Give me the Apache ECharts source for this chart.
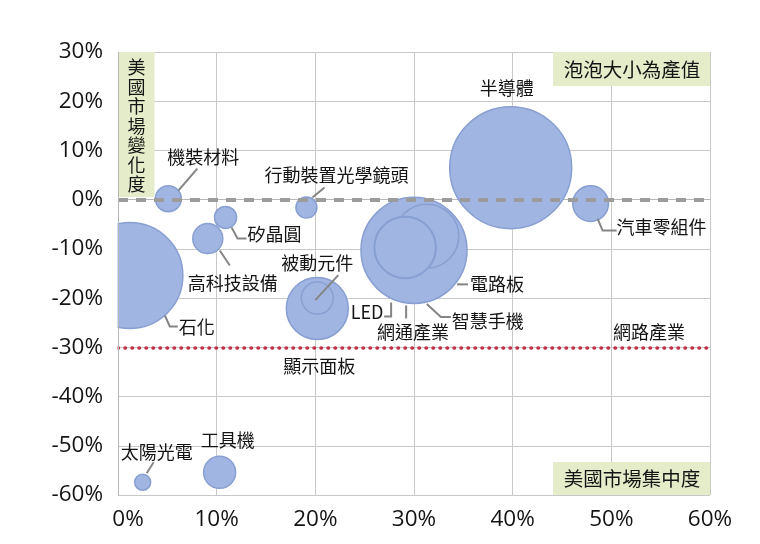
<!DOCTYPE html>
<html>
<head>
<meta charset="utf-8">
<script src="https://cdn.jsdelivr.net/npm/echarts@6/dist/echarts.min.js"></script>
<style>
html,body{margin:0;padding:0;background:#fff;}
#chart{width:760px;height:544px;}
</style>
</head>
<body>
<div id="chart"></div>
<script>
// ---- data ----
var industries = ['石化','半導體','電路板','智慧手機','網通產業','LED','顯示面板','被動元件','機裝材料','行動裝置光學鏡頭','矽晶圓','高科技設備','汽車零組件','工具機','太陽光電'];
var concentration = [1.2, 39.8, 30.0, 31.3, 29.1, 29.1, 20.2, 20.2, 5.1, 19.1, 10.9, 9.1, 47.9, 10.3, 2.5];   // 美國市場集中度 (%)
var marketChange  = [-15.4, 6.5, -10.3, -7.4, -9.7, -9.7, -22.1, -20.0, 0.2, -1.6, -3.6, -7.9, -0.8, -55.4, -57.4]; // 美國市場變化度 (%)
var outputValue   = [28.1, 37.2, 28.1, 10.2, 9.6, 9.3, 9.6, 2.56, 1.69, 1.1, 1.21, 2.25, 3.2, 2.56, 0.64]; // 產值 (relative)
var xTicks = [0, 10, 20, 30, 40, 50, 60];
var yTicks = [-60, -50, -40, -30, -20, -10, 0, 10, 20, 30];
var refZero = 0;
var refNetwork = -30;
var refNetworkName = '網路產業';

// ---- label placement (pixels relative to bubble centre) ----
var labelCfg = {
  '石化':        {t:[67,52],  line:[[35,40],[40,51],[48,51]]},
  '半導體':      {t:[-4,-80]},
  '電路板':      {t:[83,34],  line:[[43,34],[54,34]]},
  '智慧手機':    {t:[61,85],  line:[[0,68],[14,81],[24,81]]},
  '網通產業':    {t:[8,85],   line:[[1,58],[1,71]]},
  'LED':         {t:[-38,65], line:[[-21,69],[-14,69],[-14,55]]},
  '顯示面板':    {t:[2,58]},
  '被動元件':    {t:[0,-35],  line:[[-2,2],[21,-23]]},
  '機裝材料':    {t:[35,-42], line:[[10,-8],[29,-30]]},
  '行動裝置光學鏡頭': {t:[30,-32], line:[[6,-10],[18,-20]]},
  '矽晶圓':      {t:[49,17],  line:[[6,10],[12,21],[21,21]]},
  '高科技設備':  {t:[25,45],  line:[[12,12],[22,27]]},
  '汽車零組件':  {t:[71,24],  line:[[7,15],[12,27],[26,27]]},
  '工具機':      {t:[8,-32]},
  '太陽光電':    {t:[14,-30], line:[[4,-9],[11,-20]]}
};

var bubbles = industries.map(function (n, i) {
  return {name: n, value: [concentration[i], marketChange[i], outputValue[i]]};
});

var CJK = '"Noto Sans CJK TC","Noto Sans CJK SC",sans-serif';
var NUM = '"Open Sans","Noto Sans",sans-serif';
var BOX = '#e4ecca';
var TXT = '#141414';

var chart = echarts.init(document.getElementById('chart'), null, {renderer: 'canvas'});

function baseGraphics() {
  return [
    // mask: clips the part of bubbles that spills left of the plot area
    {type: 'rect', z: 10, silent: true, shape: {x: 0, y: 40, width: 117.5, height: 460}, style: {fill: '#ffffff'}},
    {type: 'rect', z: 10, shape: {x: 118.5, y: 52, width: 36, height: 145}, style: {fill: BOX}},
    {type: 'text', z: 11, x: 136.5, y: 126, style: {text: '美\n國\n市\n場\n變\n化\n度', fill: TXT, font: '18px ' + CJK, lineHeight: 19.5, align: 'center', verticalAlign: 'middle'}},
    {type: 'rect', z: 10, shape: {x: 553, y: 52, width: 157, height: 34}, style: {fill: BOX}},
    {type: 'text', z: 11, x: 632, y: 70, style: {text: '泡泡大小為產值', fill: TXT, font: '19.5px ' + CJK, align: 'center', verticalAlign: 'middle'}},
    {type: 'rect', z: 10, shape: {x: 553, y: 462, width: 157, height: 33}, style: {fill: BOX}},
    {type: 'text', z: 11, x: 632, y: 479, style: {text: '美國市場集中度', fill: TXT, font: '19.5px ' + CJK, align: 'center', verticalAlign: 'middle'}}
  ];
}

var yCommon = {
  type: 'value', min: yTicks[0], max: yTicks[yTicks.length - 1], interval: 10, position: 'left'
};

var option = {
  animation: false,
  backgroundColor: '#ffffff',
  grid: {left: 118, right: 50, top: 52, bottom: 49, containLabel: false},
  xAxis: {
    type: 'value', min: xTicks[0], max: xTicks[xTicks.length - 1], interval: 10,
    axisLine: {show: true, lineStyle: {color: '#b8b8b8', width: 1}},
    axisTick: {show: false},
    splitLine: {show: true, lineStyle: {color: '#c8c8c8', width: 1}},
    axisLabel: {
      formatter: function (v) { return v === 0 ? '{z|0%}' : v + '%'; },
      rich: {z: {padding: [0, 0, 0, 20], fontSize: 22.5, fontFamily: NUM, color: TXT}},
      color: TXT, fontSize: 22.5, fontFamily: NUM, margin: 13
    }
  },
  yAxis: [
    Object.assign({}, yCommon, {
      axisLine: {show: false}, axisTick: {show: false}, axisLabel: {show: false},
      splitLine: {show: true, lineStyle: {color: '#c8c8c8', width: 1}}
    }),
    Object.assign({}, yCommon, {
      z: 20,
      axisLine: {show: true, onZero: false, lineStyle: {color: '#b8b8b8', width: 1}},
      axisTick: {show: false}, splitLine: {show: false},
      axisLabel: {formatter: '{value}%', color: TXT, fontSize: 22.5, fontFamily: NUM, margin: 15}
    })
  ],
  series: [
    {
      type: 'line', data: [], z: 1, silent: true, yAxisIndex: 0,
      markLine: {
        silent: true, symbol: ['none', 'none'], animation: false,
        data: [
          {yAxis: refZero, lineStyle: {color: '#9b9b9b', width: 4, type: [10, 8]}, label: {show: false}},
          {yAxis: refNetwork, lineStyle: {color: '#c23048', width: 3.5, type: [0.5, 6.5], cap: 'round'},
           label: {show: true, formatter: refNetworkName, position: 'insideEndTop', distance: [25, 6],
                   color: TXT, fontSize: 18, fontFamily: CJK}}
        ]
      }
    },
    {
      type: 'scatter', z: 3, yAxisIndex: 0,
      data: bubbles,
      symbolSize: function (v) { return 20 * Math.sqrt(v[2]); },
      itemStyle: {color: '#a0b5e1', borderColor: '#889fd2', borderWidth: 1.5, opacity: 1},
      label: {show: true, formatter: '{b}', color: TXT, fontSize: 18, fontFamily: CJK},
      labelLine: {show: false},
      labelLayout: function (p) {
        var c = labelCfg[industries[p.dataIndex]];
        var cx = p.rect.x + p.rect.width / 2, cy = p.rect.y + p.rect.height / 2;
        return {x: cx + c.t[0], y: cy + c.t[1], align: 'center', verticalAlign: 'middle', hideOverlap: false};
      }
    }
  ],
  graphic: baseGraphics()
};
chart.setOption(option);

// leader lines, anchored to each bubble's centre through the chart's own scales
var g = baseGraphics();
industries.forEach(function (n, i) {
  var c = labelCfg[n];
  if (!c.line) return;
  var p = chart.convertToPixel({xAxisIndex: 0, yAxisIndex: 0}, [concentration[i], marketChange[i]]);
  g.push({
    type: 'polyline', z: 12, silent: true,
    shape: {points: c.line.map(function (pt) { return [p[0] + pt[0], p[1] + pt[1]]; })},
    style: {stroke: '#858585', lineWidth: 2, fill: null}
  });
});
chart.setOption({graphic: g}, {replaceMerge: ['graphic']});
</script>
</body>
</html>
